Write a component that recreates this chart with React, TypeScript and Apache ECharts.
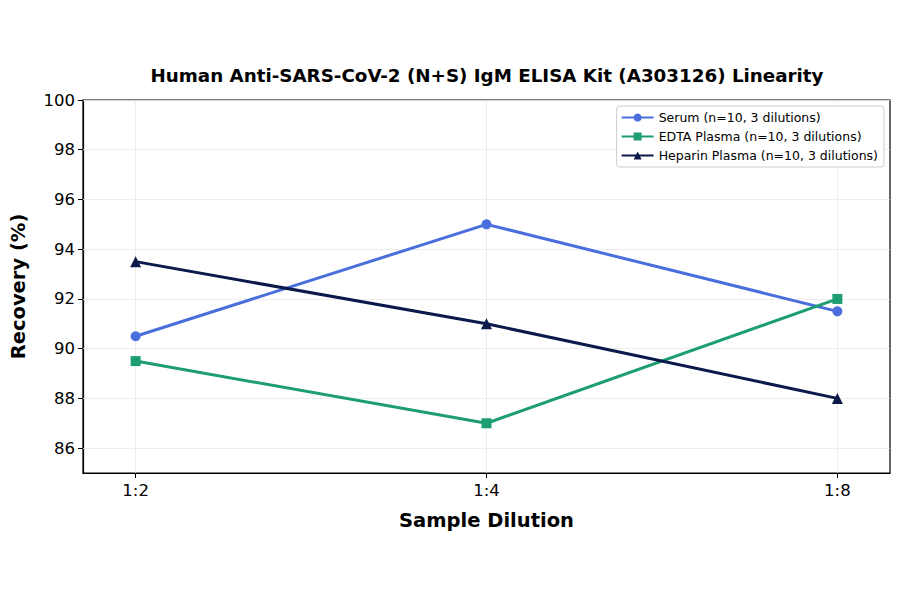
import React, { useRef, useEffect } from "react";
import * as echarts from "echarts";

const dilutions = ["1:2", "1:4", "1:8"];
const serum = [90.5, 95, 91.5];
const edta = [89.5, 87, 92];
const heparin = [93.5, 91, 88];
const yTicks = [86, 88, 90, 92, 94, 96, 98, 100];
const xTicks = [0, 1, 2];

const font = "DejaVu Sans";

const App = function () {
  const chart = useRef<HTMLDivElement>(null);
  useEffect(() => {
    if (!chart.current) return;
    const myChart = echarts.init(chart.current, null, { renderer: "svg" });
    const mk = (name: string, data: number[], color: string, symbol: string, size: number) => ({
      name,
      type: "line",
      data: data.map((v, i) => [i, v]),
      symbol,
      symbolSize: size,
      lineStyle: { color, width: 3 },
      itemStyle: { color },
      z: 3,
    });
    const option = {
      animation: false,
      backgroundColor: "#fff",
      title: {
        text: "Human Anti-SARS-CoV-2 (N+S) IgM ELISA Kit (A303126) Linearity",
        left: 482,
        textAlign: "center",
        top: 61,
        textStyle: { fontFamily: font, fontSize: 18.3, fontWeight: "bold", color: "#000" },
      },
      legend: {
        right: 16,
        top: 106,
        orient: "vertical",
        backgroundColor: "#fff",
        borderColor: "#ccc",
        borderWidth: 1,
        borderRadius: 3,
        padding: [5, 6, 5, 4],
        itemGap: 6,
        itemWidth: 32,
        itemHeight: 10,
        textStyle: { fontFamily: font, fontSize: 12.5, color: "#000" },
      },
      grid: {
        left: 82,
        right: 10,
        top: 100,
        bottom: 121,
        show: true,
        borderColor: "#000",
        borderWidth: 1.2,
        backgroundColor: "transparent",
      },
      xAxis: {
        type: "value",
        min: -0.15,
        max: 2.15,
        name: "Sample Dilution",
        nameLocation: "middle",
        nameGap: 37,
        nameTextStyle: { fontFamily: font, fontSize: 19.5, fontWeight: "bold", color: "#000" },
        axisLine: { onZero: false, lineStyle: { color: "#000", width: 1.2 } },
        axisTick: { customValues: xTicks, length: 5, lineStyle: { color: "#000" } },
        axisLabel: {
          customValues: xTicks,
          formatter: (v: number) => dilutions[Math.round(v)] ?? "",
          fontFamily: font,
          fontSize: 16.5,
          color: "#000",
          margin: 9,
        },
        splitLine: { show: false },
      },
      yAxis: {
        type: "value",
        min: 85,
        max: 100,
        name: "Recovery (%)",
        nameLocation: "middle",
        nameGap: 55,
        nameTextStyle: { fontFamily: font, fontSize: 19.5, fontWeight: "bold", color: "#000" },
        axisLine: { onZero: false, lineStyle: { color: "#000", width: 1.2 } },
        axisTick: { customValues: yTicks, length: 5, lineStyle: { color: "#000" } },
        axisLabel: {
          customValues: yTicks,
          fontFamily: font,
          fontSize: 16.5,
          color: "#000",
          margin: 8,
        },
        splitLine: { show: false },
      },
      series: [
        {
          ...mk("Serum (n=10, 3 dilutions)", serum, "#4a6fdc", "circle", 10),
          markLine: {
            silent: true,
            symbol: "none",
            label: { show: false },
            lineStyle: { color: "#e8e8e8", width: 0.8, type: "solid" },
            z: 1,
            data: [
              ...yTicks.map((v) => ({ yAxis: v })),
              ...xTicks.map((v) => ({ xAxis: v })),
            ],
          },
        },
        mk("EDTA Plasma (n=10, 3 dilutions)", edta, "#1d9e72", "rect", 10),
        mk("Heparin Plasma (n=10, 3 dilutions)", heparin, "#0c1a4b", "triangle", 11),
      ],
    };
    myChart.setOption(option as any);
    return () => {
      myChart.dispose();
    };
  }, []);
  return <div ref={chart} style={{ width: 900, height: 594, margin: -8 }}></div>;
};

export default App;
